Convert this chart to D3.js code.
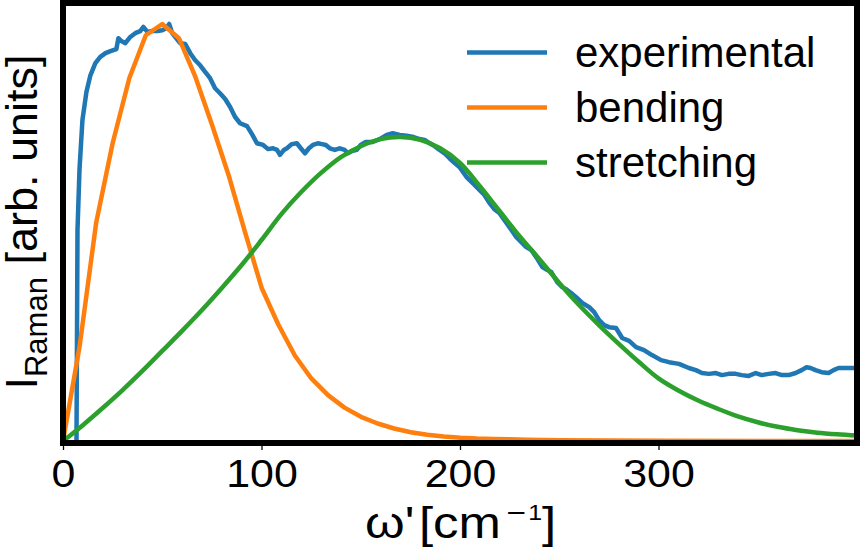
<!DOCTYPE html>
<html><head><meta charset="utf-8">
<script src="https://cdn.jsdelivr.net/npm/d3@7"></script>
<style>body{margin:0;background:#fff}svg{display:block}text{font-family:"Liberation Sans",Arial,Helvetica,sans-serif;fill:#000}</style>
</head><body>
<svg id="c" width="862" height="548"></svg>
<script>
// ---- data ----
const seriesNames = ["experimental", "bending", "stretching"];
const seriesColors = ["#1f77b4", "#ff7f0e", "#2ca02c"];
const xTicks = [0, 100, 200, 300];

const expW = [6.8,7.3,8.3,9.8,11.8,13.8,16.3,18.8,21.4,23.9,26.9,27.9,29.4,31.4,33.9,36.4,38.9,40.5,42.5,45.0,47.5,50.0,52.0,53.5,55.0,57.0,59.0,61.6,64.1,66.6,69.1,71.6,74.1,76.6,79.1,81.7,84.2,86.7,89.2,92.7,95.2,97.7,100.8,103.3,105.8,107.8,109.3,111.3,112.8,115.3,117.8,119.8,121.9,123.9,125.9,128.4,130.4,132.4,134.4,136.9,139.4,141.9,143.5,145.5,148.0,150.0,152.5,156.0,159.5,163.1,166.1,169.6,173.1,176.6,179.6,182.2,184.7,187.2,189.7,192.2,194.7,197.2,199.7,203.3,206.3,209.8,212.3,214.8,217.3,219.8,223.4,225.9,228.4,230.9,233.4,235.9,238.4,241.5,244.0,246.0,249.0,251.5,253.5,256.0,258.5,261.6,265.1,267.6,270.1,272.6,275.1,278.6,281.7,285.2,288.7,292.7,296.7,301.3,305.3,310.3,315.3,318.8,321.9,325.4,328.9,331.9,335.4,338.9,341.9,345.5,349.0,352.0,355.5,359.0,362.1,365.6,369.1,372.1,374.6,376.6,379.1,382.2,385.7,388.2,390.7,394.2,397.2,400.5];
const expI = [0,50.6,65.0,77.0,83.7,87.7,90.6,92.1,93.0,93.5,94.0,96.6,95.9,95.4,96.9,97.8,98.3,99.3,98.1,98.3,98.3,98.5,99.0,100.0,97.8,96.6,95.4,95.2,93.0,91.3,90.1,88.5,87.0,84.6,83.4,82.0,80.1,77.7,76.2,75.5,73.6,71.4,71.0,70.0,70.2,69.8,68.6,69.8,70.2,71.2,71.4,70.2,69.0,70.2,71.0,71.4,71.2,71.0,70.2,69.8,70.2,69.8,69.0,69.5,69.8,71.0,71.7,71.7,72.4,73.4,73.8,73.4,73.2,72.9,72.4,72.2,71.4,70.7,69.8,69.0,67.8,66.7,65.7,63.3,61.9,60.2,59.0,57.1,55.6,54.7,52.3,50.6,48.9,47.7,46.5,45.8,44.1,41.7,41.0,40.5,38.1,36.9,36.4,35.5,34.5,33.1,32.1,30.9,29.0,27.8,27.3,27.1,24.7,24.0,22.5,21.8,20.6,19.4,18.9,18.5,17.5,17.0,16.3,16.1,16.3,15.8,16.1,16.1,15.8,15.6,16.3,15.8,16.1,16.3,15.8,15.8,16.3,17.0,17.7,17.5,17.0,16.5,16.3,17.0,17.5,17.5,17.5,17.5];

const bendW = [0,8.3,16.7,25.0,33.4,41.7,50.0,58.4,66.7,75.1,83.4,91.7,100.1,108.4,116.8,125.1,133.5,141.8,150.1,158.5,166.8,175.2,183.5,191.8,200.2,208.5,216.8,225.2,233.5,250.2,275.2,300.2,350.3,400.3];
const bendI = [0,22.5,52.3,71.4,87.0,97.3,100,96.6,87.3,75.8,63.8,50.1,36.7,28.0,20.5,15.0,11.0,8.0,5.8,4.2,3.0,2.1,1.5,1.1,0.8,0.6,0.5,0.4,0.3,0.2,0.1,0.05,0.02,0];

const strW = [0,10,20,30,40,50,60,70,80,90,100,110,120,130,140,150,160,170,180,190,200,210,220,230,240,250,260,270,280,290,300,310,320,330,340,350,360,370,380,390,400];
const strI = [0,3.8,7.9,12.2,16.8,21.6,26.4,31.4,36.7,42.2,48.2,54.4,59.7,64.3,68.1,70.7,72.4,72.9,72.2,70.2,66.7,61.1,55.1,49.1,43.6,37.9,32.6,27.8,23.3,19.0,15.0,12.1,9.7,7.7,5.9,4.5,3.4,2.6,2.0,1.6,1.3];

// ---- chart ----
const svg = d3.select("#c");
const L = 63, R = 857, T = 3, B = 443;
const x = d3.scaleLinear().domain([0, 400]).range([L, R]);
const y = d3.scaleLinear().domain([0, 100]).range([441, 24]);

svg.append("defs").append("clipPath").attr("id", "clip")
  .append("rect").attr("x", L).attr("y", T).attr("width", R - L).attr("height", B - T);

const series = [
  {w: expW, v: expI, curve: d3.curveLinear},
  {w: bendW, v: bendI, curve: d3.curveLinear},
  {w: strW, v: strI, curve: d3.curveCatmullRom}
];
const g = svg.append("g").attr("clip-path", "url(#clip)");
series.forEach((s, i) => {
  const pts = s.w.map((w, k) => [w, s.v[k]]);
  const line = d3.line().x(d => x(d[0])).y(d => y(d[1])).curve(s.curve);
  g.append("path").attr("d", line(pts)).attr("fill", "none")
    .attr("stroke", seriesColors[i]).attr("stroke-width", 4.5)
    .attr("stroke-linejoin", "round").attr("stroke-linecap", "butt");
});

// x axis ticks
const ax = svg.append("g").attr("transform", `translate(0,${B})`)
  .call(d3.axisBottom(x).tickValues(xTicks).tickSize(7).tickPadding(10).tickFormat(d3.format("d")));
ax.select(".domain").remove();
ax.selectAll(".tick line").attr("stroke", "#000").attr("stroke-width", 1.3);
ax.selectAll(".tick text").attr("font-size", 38).attr("font-family", "Liberation Sans")
  .attr("dy", null).attr("y", 44).attr("transform", "scale(1.13,1)");

// frame
svg.append("rect").attr("x", L).attr("y", T).attr("width", R - L).attr("height", B - T)
  .attr("fill", "none").attr("stroke", "#000").attr("stroke-width", 6);

// legend
const lg = svg.append("g");
seriesNames.forEach((n, i) => {
  const yy = 52.5 + i * 55;
  lg.append("line").attr("x1", 467).attr("x2", 547).attr("y1", yy).attr("y2", yy)
    .attr("stroke", seriesColors[i]).attr("stroke-width", 4.5);
  lg.append("text").attr("x", 575).attr("y", yy + 14).attr("font-size", 42).text(n);
});

// x axis label  ω'[cm^-1]
const xl = svg.append("text").attr("transform", "translate(365,537.5) scale(1.13,1)").attr("font-size", 45);
xl.append("tspan").text("ω'");
xl.append("tspan").attr("dx", 4).text("[cm");
xl.append("tspan").attr("dx", 4).attr("dy", -18).attr("font-size", 23).attr("font-family", "DejaVu Sans").text("−");
xl.append("tspan").attr("dx", 1).attr("font-size", 22).text("1");
xl.append("tspan").attr("dy", 18).text("]");

// y axis label
const yl = svg.append("text").attr("transform", "translate(37,222) rotate(-90)").attr("text-anchor", "middle").attr("font-size", 45);
yl.append("tspan").text("I");
yl.append("tspan").attr("font-size", 31).attr("dy", 10).text("Raman");
yl.append("tspan").attr("dy", -10).text(" [arb. units]");
</script>
</body></html>
